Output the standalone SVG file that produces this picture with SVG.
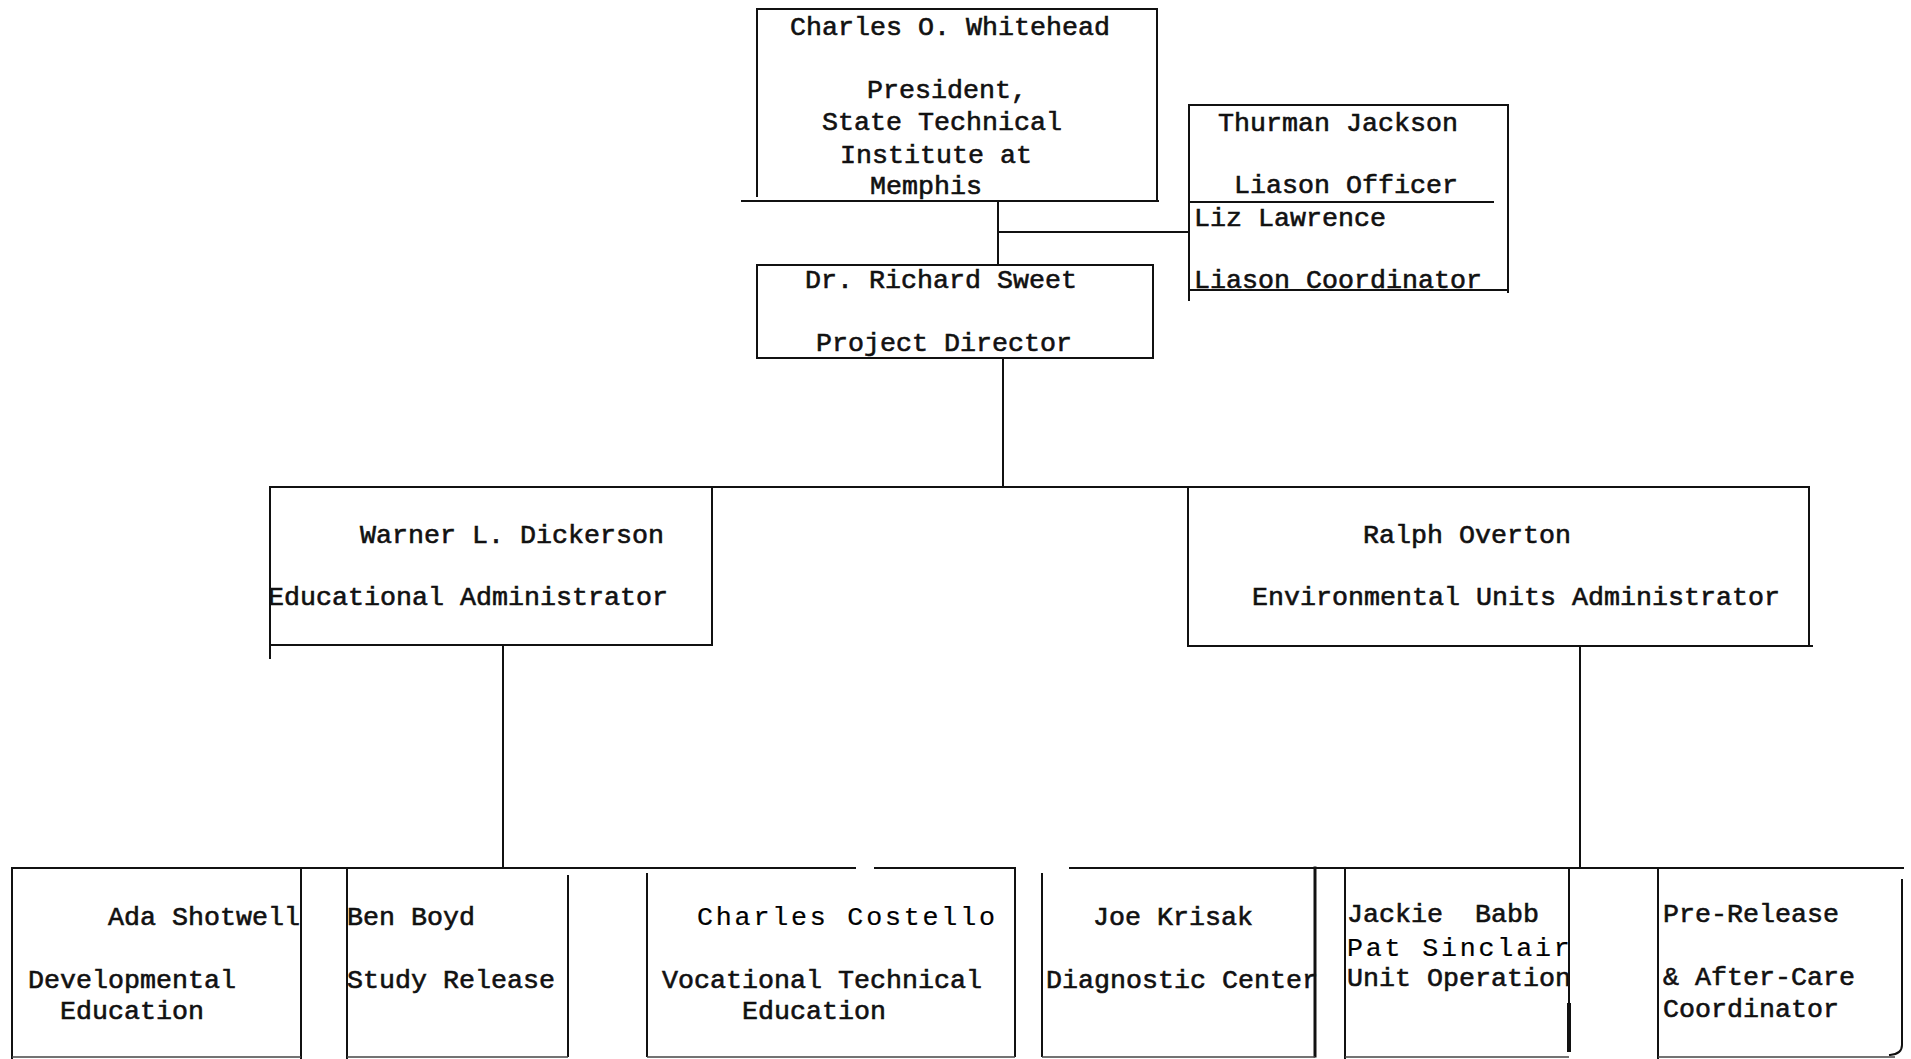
<svg xmlns="http://www.w3.org/2000/svg" width="1911" height="1059" viewBox="0 0 1911 1059">
<style>
  .bg { fill: #ffffff; }
  .edge { stroke: #111; stroke-width: 2; fill: none; stroke-linecap: square; }
  .faint { stroke: #444; stroke-width: 1.5; fill: none; }
  .conn { stroke: #111; stroke-width: 2; fill: none; }
  text { font-family: "Liberation Mono", "Courier New", monospace; font-size: 26.67px; fill: #111; stroke: #111; stroke-width: 0.6px; }
  .wide { letter-spacing: 2.8px; fill: #000; stroke: #000; stroke-width: 0.2px; }
</style>
<rect class="bg" x="0" y="0" width="1911" height="1059"/>

<g id="connectors">
  <line class="conn" x1="998" y1="201" x2="998" y2="265"/>
  <line class="conn" x1="998" y1="232" x2="1189" y2="232"/>
  <line class="conn" x1="1003" y1="358" x2="1003" y2="487"/>
  <line class="conn" x1="712" y1="487" x2="1188" y2="487"/>
  <line class="conn" x1="503" y1="646" x2="503" y2="868"/>
  <line class="conn" x1="1580" y1="647" x2="1580" y2="868"/>
  <line class="conn" x1="301" y1="868" x2="347" y2="868"/>
  <line class="conn" x1="568" y1="868" x2="647" y2="868"/>
  <line class="conn" x1="1315" y1="868" x2="1345" y2="868"/>
  <line class="conn" x1="1569" y1="868" x2="1658" y2="868"/>
</g>

<g id="node-whitehead">
  <path class="edge" d="M757,196 V9 H1157 V200"/>
  <line class="edge" x1="742" y1="201" x2="1158" y2="201"/>
  <text x="790" y="35">Charles O. Whitehead</text>
  <text x="867" y="98">President,</text>
  <text x="822" y="130">State Technical</text>
  <text x="840" y="163">Institute at</text>
  <text x="870" y="194">Memphis</text>
</g>

<g id="node-jackson">
  <path class="edge" d="M1189,202 V105 H1508 V202"/>
  <line class="edge" x1="1189" y1="202" x2="1493" y2="202"/>
  <text x="1218" y="131">Thurman Jackson</text>
  <text x="1234" y="193">Liason Officer</text>
</g>

<g id="node-lawrence">
  <path class="edge" d="M1189,202 V300"/>
  <path class="edge" d="M1508,202 V292"/>
  <line class="edge" x1="1189" y1="290" x2="1508" y2="290"/>
  <text x="1194" y="226">Liz Lawrence</text>
  <text x="1194" y="288">Liason Coordinator</text>
</g>

<g id="node-sweet">
  <rect class="edge" x="757" y="265" width="396" height="93"/>
  <text x="805" y="288">Dr. Richard Sweet</text>
  <text x="816" y="351">Project Director</text>
</g>

<g id="node-dickerson">
  <path class="edge" d="M270,658 V487 H712 V645 H270"/>
  <text x="360" y="543">Warner L. Dickerson</text>
  <text x="268" y="605">Educational Administrator</text>
</g>

<g id="node-overton">
  <path class="edge" d="M1188,646 V487 H1809 V646"/>
  <line class="edge" x1="1188" y1="646" x2="1812" y2="646"/>
  <text x="1363" y="543">Ralph Overton</text>
  <text x="1252" y="605">Environmental Units Administrator</text>
</g>

<g id="node-shotwell">
  <path class="edge" d="M12,1059 V868 H301 V1059"/>
  <line class="faint" x1="12" y1="1057" x2="301" y2="1057"/>
  <text x="108" y="925">Ada Shotwell</text>
  <text x="28" y="988">Developmental</text>
  <text x="60" y="1019">Education</text>
</g>

<g id="node-boyd">
  <path class="edge" d="M347,1059 V868 H568"/>
  <line class="edge" x1="568" y1="876" x2="568" y2="1056"/>
  <line class="faint" x1="347" y1="1057" x2="568" y2="1057"/>
  <text x="347" y="925">Ben Boyd</text>
  <text x="347" y="988">Study Release</text>
</g>

<g id="node-costello">
  <line class="edge" x1="647" y1="868" x2="855" y2="868"/>
  <line class="edge" x1="875" y1="868" x2="1015" y2="868"/>
  <line class="edge" x1="647" y1="874" x2="647" y2="1056"/>
  <line class="edge" x1="1015" y1="870" x2="1015" y2="1056"/>
  <line class="faint" x1="647" y1="1057" x2="1015" y2="1057"/>
  <text class="wide" x="697" y="925">Charles Costello</text>
  <text x="662" y="988">Vocational Technical</text>
  <text x="742" y="1019">Education</text>
</g>

<g id="node-krisak">
  <line class="edge" x1="1070" y1="868" x2="1315" y2="868"/>
  <line class="edge" x1="1042" y1="874" x2="1042" y2="1056"/>
  <line class="edge" x1="1315" y1="868" x2="1315" y2="1056" style="stroke-width:3"/>
  <line class="faint" x1="1042" y1="1057" x2="1315" y2="1057"/>
  <text x="1093" y="925">Joe Krisak</text>
  <text x="1046" y="988">Diagnostic Center</text>
</g>

<g id="node-babb">
  <path class="edge" d="M1345,1059 V868 H1569 V1050"/>
  <line class="edge" x1="1569" y1="1005" x2="1569" y2="1050" style="stroke-width:4"/>
  <line class="faint" x1="1345" y1="1057" x2="1569" y2="1057"/>
  <text x="1347" y="922" style="white-space:pre">Jackie  Babb</text>
  <text class="wide" x="1347" y="956">Pat Sinclair</text>
  <text x="1347" y="986">Unit Operation</text>
</g>

<g id="node-prerelease">
  <path class="edge" d="M1658,1059 V868 H1903"/>
  <path class="edge" d="M1902,880 V1045 Q1902,1054 1890,1055"/>
  <line class="faint" x1="1658" y1="1057" x2="1895" y2="1057"/>
  <text x="1663" y="922">Pre-Release</text>
  <text x="1663" y="985">&amp; After-Care</text>
  <text x="1663" y="1017">Coordinator</text>
</g>
</svg>
